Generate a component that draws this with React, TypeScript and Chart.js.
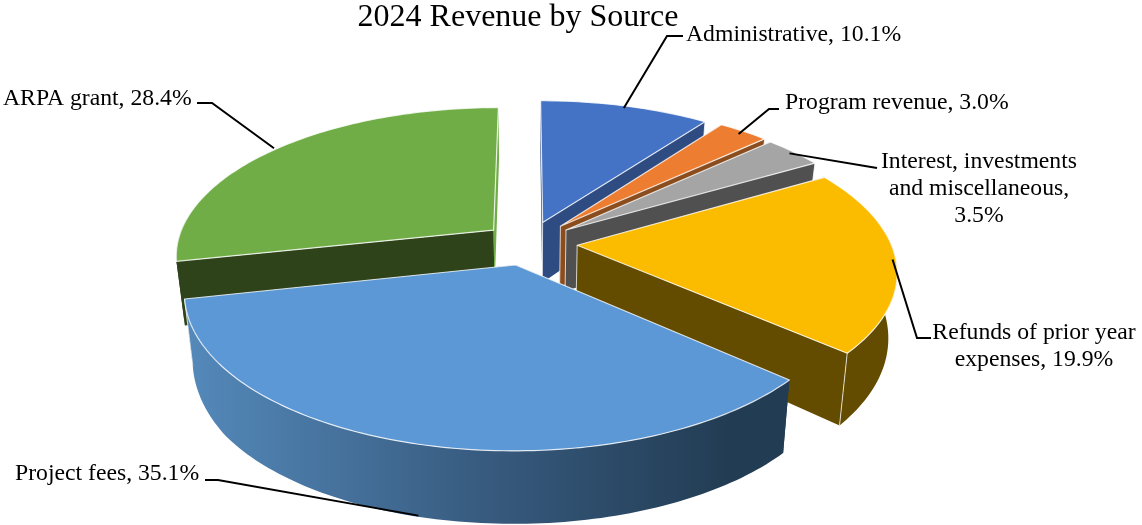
import React, { useEffect, useRef } from "react";
import { Chart, registerables } from "chart.js";

Chart.register(...registerables);

const TITLE = "2024 Revenue by Source";
const categories = ["Administrative", "Program revenue", "Interest, investments and miscellaneous", "Refunds of prior year expenses", "Project fees", "ARPA grant"];
const shares = [10.1, 3.0, 3.5, 19.9, 35.1, 28.4];
const topColors = ["#4472c4", "#ed7d31", "#a5a5a5", "#fbbc00", "#5b98d5", "#70ad47"];
const sideColors = ["#2e4b82", "#8c4d1e", "#505050", "#634b00", "#223c53", "#2e431a"];
const explode = [0.15, 0.155, 0.15, 0.154, 0.15, 0.14];
const radiusScale = [1, 1, 1, 0.98, 0.995, 0.99];

const labelLines = [
  ["Administrative, 10.1%"],
  ["Program revenue, 3.0%"],
  ["Interest, investments", "and miscellaneous,", "3.5%"],
  ["Refunds of prior year", "expenses, 19.9%"],
  ["Project fees, 35.1%"],
  ["ARPA grant, 28.4%"],
];

// Layout of the drawing
const FONT = "23.7px 'Liberation Serif'";
const UNIT = 220; // px of chart offset per unit of disc radius
const VIEW = { cx: 528, cy: 243, A: 320, B: 148, p: 0.165, lean: 0.024 };
const DRAW_ORDER = [5, 0, 1, 2, 3, 4];
const labelLayout = [
  { x: 686, y: 35, align: "left", step: 27, leader: [[683, 36], [667, 36]], r: 0.98, low: false },
  { x: 785, y: 103, align: "left", step: 27, leader: [[779, 109], [769, 109]], r: 0.97, low: false },
  { x: 979, y: 162, align: "center", step: 27, leader: [[877, 168]], r: 0.98, low: false },
  { x: 1034, y: 333, align: "center", step: 26.5, leader: [[931, 338], [917, 338]], r: 0.97, low: false },
  { x: 15, y: 474, align: "left", step: 27, leader: [[205, 480], [218, 480]], r: 0.99, low: true },
  { x: 3, y: 99, align: "left", step: 27, leader: [[197, 103], [212, 103]], r: 1.0, low: false },
];

type P = [number, number];

function project(X: number, Y: number): P {
  const w = 1 / (1 - VIEW.p * Y);
  return [VIEW.cx + VIEW.A * X * w, VIEW.cy + VIEW.B * Y * w];
}
function lower(pt: P): P {
  const d = Math.min(73, 64 + 0.09 * (pt[1] - 262));
  return [pt[0] + (VIEW.cx - pt[0]) * VIEW.lean, pt[1] + d];
}
function slicePoint(el: any, angle: number, r: number): P {
  const mid = (el.startAngle + el.endAngle) / 2;
  const off = el.options.offset / UNIT;
  return project(off * Math.cos(mid) + r * Math.cos(angle), off * Math.sin(mid) + r * Math.sin(angle));
}
function sweep(el: any): number[] {
  const n = Math.max(4, Math.ceil((el.endAngle - el.startAngle) / 0.02));
  const out: number[] = [];
  for (let i = 0; i <= n; i++) out.push(el.startAngle + ((el.endAngle - el.startAngle) * i) / n);
  return out;
}
function poly(ctx: CanvasRenderingContext2D, pts: P[], close = true) {
  ctx.beginPath();
  pts.forEach((p, i) => (i ? ctx.lineTo(p[0], p[1]) : ctx.moveTo(p[0], p[1])));
  if (close) ctx.closePath();
}

const pie3d = {
  id: "pie3d",
  beforeDatasetDraw(chart: any) {
    const ctx: CanvasRenderingContext2D = chart.ctx;
    const arcs = chart.getDatasetMeta(0).data;
    ctx.save();
    ctx.lineJoin = "round";
    for (const i of DRAW_ORDER) {
      const el = arcs[i];
      const apex = slicePoint(el, 0, 0);
      const angles = sweep(el);
      const rim = angles.map((a) => slicePoint(el, a, radiusScale[i]));
      const first = rim[0];
      const last = rim[rim.length - 1];
      const side = sideColors[i];
      // radial walls
      ctx.fillStyle = side;
      poly(ctx, [apex, first, lower(first), lower(apex)]);
      ctx.fill();
      ctx.fillStyle = i === 5 ? topColors[i] : side;
      poly(ctx, [apex, last, lower(last), lower(apex)]);
      ctx.fill();
      // outer wall: only the part of the rim that faces the viewer
      const front = angles.filter((a) => Math.sin(a) > -0.1).map((a) => slicePoint(el, a, radiusScale[i]));
      if (front.length > 1) {
        const wall = [...front, ...front.map(lower).reverse()];
        let wallFill: any = side;
        if (i === 4) {
          const g = ctx.createLinearGradient(188, 0, 790, 0);
          g.addColorStop(0, "#5489ba");
          g.addColorStop(0.5, "#375a7e");
          g.addColorStop(0.9, "#223c53");
          g.addColorStop(1, "#223c53");
          wallFill = g;
        }
        ctx.fillStyle = wallFill;
        poly(ctx, wall);
        ctx.fill();
      }
      // light seams on the visible vertical wall corners
      ctx.strokeStyle = "rgba(255,255,255,0.75)";
      ctx.lineWidth = 1;
      if (i !== 5) {
        const seams = i === 4 ? [last] : [apex, last];
        for (const edge of seams) {
          poly(ctx, [edge, lower(edge)], false);
          ctx.stroke();
        }
      }
      // top face
      ctx.fillStyle = topColors[i];
      poly(ctx, [apex, ...rim]);
      ctx.fill();
      ctx.strokeStyle = "rgba(255,255,255,0.8)";
      ctx.lineWidth = 1.2;
      ctx.stroke();
    }
    ctx.restore();
    return false;
  },
  afterDatasetsDraw(chart: any) {
    const ctx: CanvasRenderingContext2D = chart.ctx;
    const arcs = chart.getDatasetMeta(0).data;
    ctx.save();
    labelLayout.forEach((lab, i) => {
      const el = arcs[i];
      let end = slicePoint(el, (el.startAngle + el.endAngle) / 2, lab.r);
      if (lab.low) end = lower(end);
      ctx.strokeStyle = "#000";
      ctx.lineWidth = 2;
      poly(ctx, [...(lab.leader as P[]), end], false);
      ctx.stroke();
      ctx.fillStyle = "#000";
      ctx.font = FONT;
      ctx.textBaseline = "middle";
      ctx.textAlign = lab.align as CanvasTextAlign;
      labelLines[i].forEach((line, k) => ctx.fillText(line, lab.x, lab.y + k * lab.step));
    });
    ctx.restore();
  },
};

export default function App() {
  const ref = useRef<HTMLCanvasElement>(null);
  useEffect(() => {
    const chart = new Chart(ref.current as HTMLCanvasElement, {
      type: "pie",
      data: {
        labels: categories,
        datasets: [{ data: shares, backgroundColor: topColors, offset: explode.map((f) => f * UNIT), borderWidth: 0 }],
      },
      options: {
        responsive: false,
        animation: false,
        devicePixelRatio: 1,
        layout: { padding: { right: 106 } },
        plugins: {
          legend: { display: false },
          tooltip: { enabled: false },
          title: {
            display: true,
            text: TITLE,
            fullSize: false,
            color: "#000",
            font: { family: "'Liberation Serif'", size: 32, weight: "normal", lineHeight: 1.1 },
            padding: { top: 0, bottom: 0 },
          },
        },
      },
      plugins: [pie3d],
    } as any);
    return () => chart.destroy();
  }, []);
  return (
    <div style={{ position: "fixed", left: 0, top: 0, width: 1142, height: 525, background: "#fff" }}>
      <canvas ref={ref} width={1142} height={525} style={{ display: "block" }} />
    </div>
  );
}
